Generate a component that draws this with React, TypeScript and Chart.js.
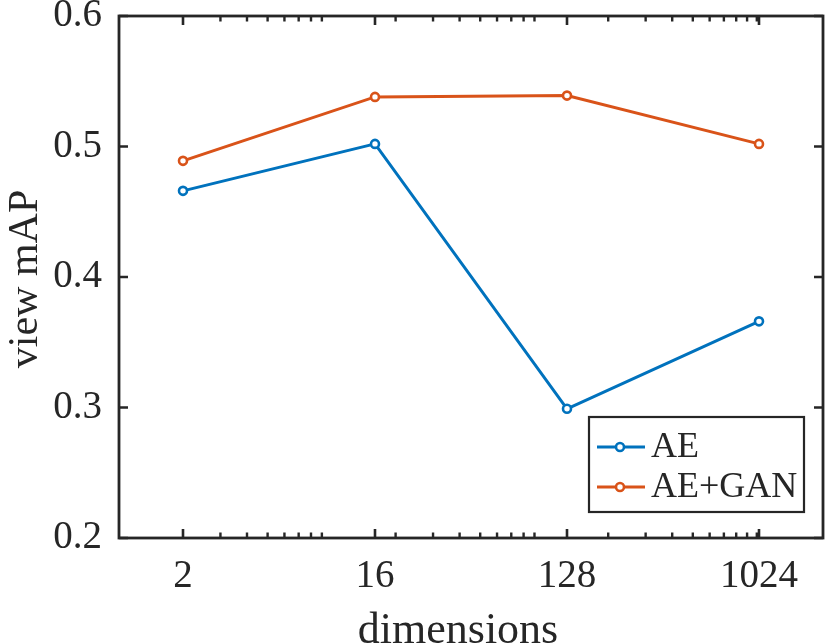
import React, { useEffect, useRef } from "react";
import { Chart, registerables } from "chart.js";

Chart.register(...registerables);

const dims = [2, 16, 128, 1024];
const aeValues = [0.466, 0.502, 0.299, 0.366];
const aeGanValues = [0.489, 0.538, 0.539, 0.502];
const xTickValues = [2, 16, 128, 1024];
const xMinorTicks = [3, 4, 5, 6, 7, 8, 9, 20, 30, 40, 50, 60, 70, 80, 90, 200, 300, 400, 500, 600, 700, 800, 900, 1000];
const yTickValues = [0.2, 0.3, 0.4, 0.5, 0.6];
const seriesLabels = ["AE", "AE+GAN"];
const seriesColors = ["#0072BD", "#D95319"];

const FONT = "'Liberation Serif', 'Times New Roman', serif";
const INK = "#262626";

const framePlugin = {
  id: "frame",
  afterDatasetsDraw(chart: any) {
    const { ctx, chartArea: a, scales } = chart;
    const xs = scales.x;
    const ys = scales.y;
    ctx.save();
    ctx.strokeStyle = INK;
    ctx.lineWidth = 2.6;
    ctx.lineCap = "butt";
    const major = 9;
    const minor = 5.5;
    ctx.beginPath();
    for (const v of xTickValues) {
      const px = xs.getPixelForValue(v);
      ctx.moveTo(px, a.bottom);
      ctx.lineTo(px, a.bottom - major);
      ctx.moveTo(px, a.top);
      ctx.lineTo(px, a.top + major);
    }
    for (const v of yTickValues) {
      const py = ys.getPixelForValue(v);
      ctx.moveTo(a.left, py);
      ctx.lineTo(a.left + major, py);
      ctx.moveTo(a.right, py);
      ctx.lineTo(a.right - major, py);
    }
    ctx.stroke();
    ctx.lineWidth = 2.4;
    ctx.beginPath();
    for (const v of xMinorTicks) {
      const px = xs.getPixelForValue(v);
      ctx.moveTo(px, a.bottom);
      ctx.lineTo(px, a.bottom - minor);
      ctx.moveTo(px, a.top);
      ctx.lineTo(px, a.top + minor);
    }
    ctx.stroke();
    ctx.lineWidth = 2.8;
    ctx.lineJoin = "miter";
    ctx.strokeRect(a.left, a.top, a.right - a.left, a.bottom - a.top);
    ctx.restore();
  },
};

const titlesPlugin = {
  id: "titles",
  afterDraw(chart: any) {
    const { ctx, chartArea: a } = chart;
    ctx.save();
    ctx.fillStyle = INK;
    ctx.font = `44px ${FONT}`;
    ctx.textAlign = "center";
    ctx.textBaseline = "alphabetic";
    ctx.fillText("dimensions", (a.left + a.right) / 2 - 13, 643);
    ctx.translate(37, (a.top + a.bottom) / 2 + 2);
    ctx.rotate(-Math.PI / 2);
    ctx.font = `42px ${FONT}`;
    ctx.fillText("view mAP", 0, 0);
    ctx.restore();
  },
};

const legendPlugin = {
  id: "boxLegend",
  afterDraw(chart: any) {
    const { ctx, chartArea: a } = chart;
    const w = 215;
    const h = 95;
    const left = a.right - 19 - w;
    const top = a.bottom - 26 - h;
    ctx.save();
    ctx.fillStyle = "#ffffff";
    ctx.fillRect(left, top, w, h);
    ctx.strokeStyle = INK;
    ctx.lineWidth = 2.2;
    ctx.strokeRect(left, top, w, h);
    ctx.font = `36px ${FONT}`;
    ctx.textBaseline = "middle";
    ctx.textAlign = "left";
    chart.data.datasets.forEach((ds: any, i: number) => {
      const cy = top + 30 + i * 40;
      ctx.strokeStyle = ds.borderColor;
      ctx.lineWidth = 3;
      ctx.beginPath();
      ctx.moveTo(left + 8, cy);
      ctx.lineTo(left + 56, cy);
      ctx.stroke();
      ctx.beginPath();
      ctx.arc(left + 31, cy, 4, 0, Math.PI * 2);
      ctx.fillStyle = "#ffffff";
      ctx.fill();
      ctx.lineWidth = 2.6;
      ctx.stroke();
      ctx.fillStyle = INK;
      ctx.fillText(ds.label, left + 62, cy + 1);
    });
    ctx.restore();
  },
};

export default function App() {
  const ref = useRef<HTMLCanvasElement | null>(null);
  useEffect(() => {
    if (!ref.current) return;
    const datasets = [aeValues, aeGanValues].map((vals, i) => ({
      label: seriesLabels[i],
      data: dims.map((d, j) => ({ x: d, y: vals[j] })),
      borderColor: seriesColors[i],
      backgroundColor: seriesColors[i],
      borderWidth: 3,
      pointRadius: 4,
      pointBorderWidth: 2.6,
      pointBackgroundColor: "#ffffff",
      pointBorderColor: seriesColors[i],
      tension: 0,
    }));
    const chart = new Chart(ref.current, {
      type: "line",
      data: { datasets },
      options: {
        animation: false,
        responsive: true,
        maintainAspectRatio: false,
        layout: { padding: { top: 16, right: 7, left: 0, bottom: 0 } },
        plugins: { legend: { display: false }, tooltip: { enabled: false } },
        scales: {
          x: {
            type: "logarithmic",
            min: 1,
            max: 2048,
            grid: { display: false, drawTicks: false },
            border: { display: false },
            afterBuildTicks: (s: any) => {
              s.ticks = xTickValues.map((v) => ({ value: v }));
            },
            afterFit: (s: any) => {
              s.height = 106;
              s.paddingLeft = 0;
              s.paddingRight = 0;
            },
            ticks: {
              autoSkip: false,
              maxRotation: 0,
              padding: 15,
              color: INK,
              font: { family: FONT, size: 39 },
              callback: (v: any) => String(v),
            },
          },
          y: {
            type: "linear",
            min: 0.2,
            max: 0.6,
            grid: { display: false, drawTicks: false },
            border: { display: false },
            afterBuildTicks: (s: any) => {
              s.ticks = yTickValues.map((v) => ({ value: v }));
            },
            afterFit: (s: any) => {
              s.width = 119;
              s.paddingTop = 0;
              s.paddingBottom = 0;
            },
            ticks: {
              padding: 17,
              color: INK,
              font: { family: FONT, size: 39 },
              callback: (v: any) => Number(v).toFixed(1),
            },
          },
        },
      },
      plugins: [framePlugin, titlesPlugin, legendPlugin],
    } as any);
    return () => chart.destroy();
  }, []);
  return (
    <div style={{ position: "absolute", left: 0, top: 0, width: 830, height: 644, overflow: "hidden", background: "#fff" }}>
      <canvas ref={ref} />
    </div>
  );
}
